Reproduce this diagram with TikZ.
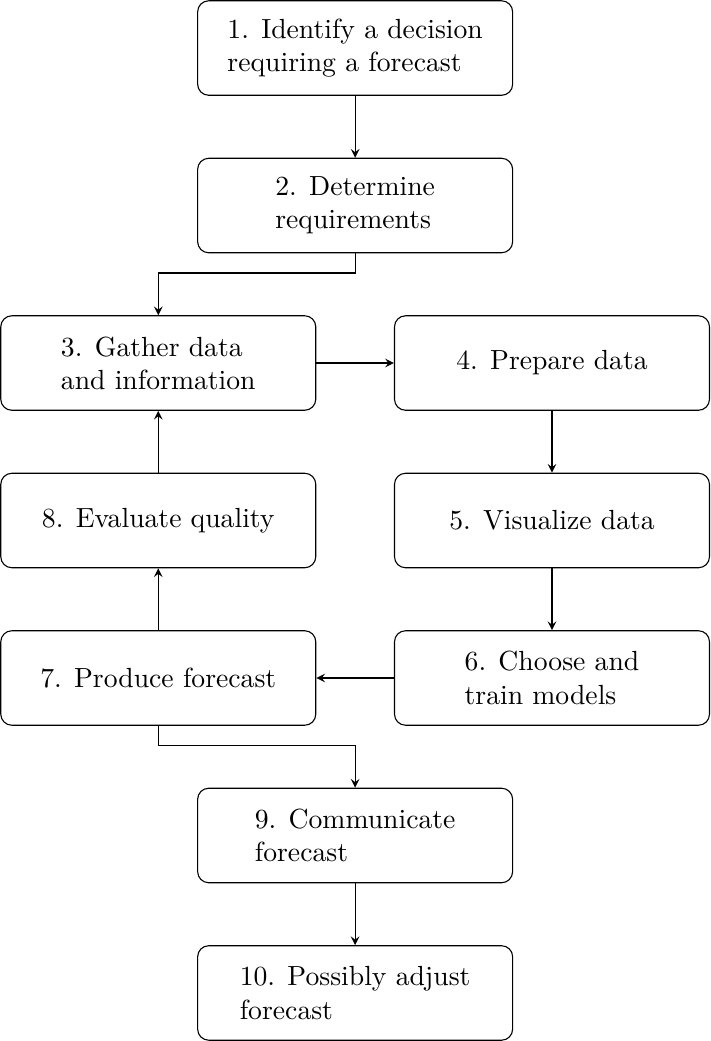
\documentclass[tikz,border=0pt]{standalone}
\begin{document}
\begin{tikzpicture}[
  stepbox/.style={draw, rounded corners=4pt, minimum width=4cm, minimum height=1.2cm, align=left, inner sep=2pt},
  conn/.style={-stealth}
]
\useasboundingbox (-0.01,0.01) rectangle (9.01,-13.21);
\node[stepbox] (n1) at (4.5,-0.6) {1. Identify a decision\\requiring a forecast};
\node[stepbox] (n2) at (4.5,-2.6) {2. Determine\\requirements};
\node[stepbox] (n3) at (2,-4.6) {3. Gather data\\and information};
\node[stepbox] (n4) at (7,-4.6) {4. Prepare data};
\node[stepbox] (n8) at (2,-6.6) {8. Evaluate quality};
\node[stepbox] (n5) at (7,-6.6) {5. Visualize data};
\node[stepbox] (n7) at (2,-8.6) {7. Produce forecast};
\node[stepbox] (n6) at (7,-8.6) {6. Choose and\\train models};
\node[stepbox] (n9) at (4.5,-10.6) {9. Communicate\\forecast};
\node[stepbox] (n10) at (4.5,-12.6) {10. Possibly adjust\\forecast};
\draw[conn] (n1) -- (n2);
\draw[conn] (n2.south) -- ++(0,-0.25) -| (n3.north);
\draw[conn] (n3) -- (n4);
\draw[conn] (n4) -- (n5);
\draw[conn] (n5) -- (n6);
\draw[conn] (n6) -- (n7);
\draw[conn] (n7) -- (n8);
\draw[conn] (n8) -- (n3);
\draw[conn] (n7.south) -- ++(0,-0.25) -| (n9.north);
\draw[conn] (n9) -- (n10);
\end{tikzpicture}
\end{document}
